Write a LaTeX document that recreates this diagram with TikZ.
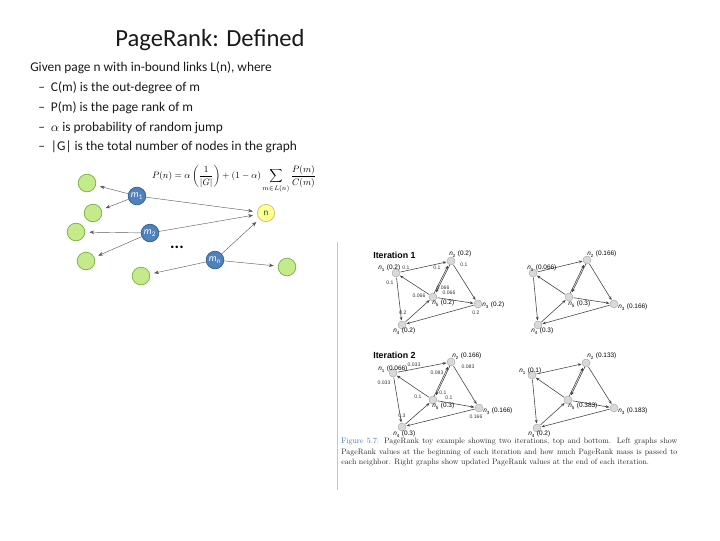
\documentclass[tikz,border=0pt]{standalone}
\usepackage{fontspec}
\usepackage{amsmath,graphicx}
\newfontfamily\slidefont{Carlito}
\newfontfamily\figfont{Liberation Sans}
\usetikzlibrary{arrows.meta,positioning,calc}
\definecolor{mb}{RGB}{79,129,189}
\definecolor{mbd}{RGB}{56,93,138}
\definecolor{gf}{RGB}{196,234,140}
\definecolor{gd}{RGB}{118,178,60}
\definecolor{yf}{RGB}{255,255,150}
\definecolor{yd}{RGB}{196,196,96}
\definecolor{capb}{RGB}{60,110,170}
\definecolor{ink}{RGB}{25,25,25}
\tikzset{
    leaf/.style={circle,draw=gd,line width=0.5pt,fill=gf,minimum size=0.44cm,inner sep=0pt},
    src/.style={circle,draw=mbd,line width=0.5pt,fill=mb,minimum size=0.44cm,inner sep=0pt,text=white,font=\slidefont\fontsize{7}{8}\selectfont},
    tgt/.style={circle,draw=yd,line width=0.5pt,fill=yf,minimum size=0.43cm,inner sep=0pt,text=green!40!black,font=\slidefont\fontsize{6.5}{7}\selectfont},
    larr/.style={-{Stealth[length=1.2mm,width=0.9mm]},line width=0.3pt,black!65,shorten >=3pt},
    pg/.style={circle,draw=gray!70,line width=0.3pt,fill=gray!30,minimum size=0.2cm,inner sep=0pt},
    parr/.style={-{Stealth[length=0.9mm,width=0.7mm]},line width=0.4pt,black!75,shorten >=0.3pt,shorten <=0.3pt},
    plab/.style={anchor=west,font=\figfont\fontsize{4.6}{5}\selectfont,inner sep=0pt},
    elab/.style={font=\figfont\fontsize{3.6}{4}\selectfont,inner sep=0pt,text=black!80},
    itlab/.style={anchor=west,font=\figfont\bfseries\fontsize{6.3}{7}\selectfont,inner sep=0pt},
    bul/.style={anchor=west,font=\slidefont\fontsize{9.5}{11}\selectfont,inner sep=0pt,text=ink},
}
\newcommand{\dsh}{\makebox[9pt][l]{–}}
\newcommand{\nd}[1]{\textit{n}\textsubscript{#1}}
\newcommand{\md}[1]{\textit{m}\textsubscript{#1}}

\begin{document}
\begin{tikzpicture}[x=0.025cm,y=-0.025cm]
\useasboundingbox (0,0) rectangle (720,540);
% slide text
\node[font=\slidefont\fontsize{17.5}{19}\selectfont,text=ink] (title) at (210,40) {PageRank: Defined};
\node[bul] (b0) at (30,68) {Given page n with in-bound links L(n), where};
\node[bul] (b1) at (38,88) {\dsh C(m) is the out-degree of m};
\node[bul] (b2) at (38,108) {\dsh P(m) is the page rank of m};
\node[bul] (b3) at (38,128) {\dsh $\alpha$ is probability of random jump};
\node[bul] (b4) at (38,147) {\dsh |G| is the total number of nodes in the graph};
\node[inner sep=0pt] (eq) at (234,179) {\scalebox{0.66}{$\displaystyle P(n)=\alpha\left(\frac{1}{|G|}\right)+(1-\alpha)\sum_{m\in L(n)}\frac{P(m)}{C(m)}$}};

% in-link picture
\node[leaf] (g1) at (87,183) {};
\node[leaf] (g2) at (93,213) {};
\node[leaf] (g3) at (76,232) {};
\node[leaf] (g4) at (86,261) {};
\node[leaf] (g5) at (141,276) {};
\node[leaf] (g6) at (287,267) {};
\node[src] (m1) at (137,196) {\md{1}};
\node[src] (m2) at (150,233) {\md{2}};
\node[src] (mn) at (215,260) {\md{n}};
\node[tgt] (n) at (266,213) {n};
\node[font=\slidefont\bfseries\fontsize{12}{12}\selectfont] (dots) at (177,247) {...};
\draw[larr] (m1) -- (g1); \draw[larr] (m1) -- (g2); \draw[larr] (m1) -- (n);
\draw[larr] (m2) -- (g3); \draw[larr] (m2) -- (g4); \draw[larr] (m2) -- (n);
\draw[larr] (mn) -- (n); \draw[larr] (mn) -- (g5); \draw[larr] (mn) -- (g6);

% book figure
\draw[gray!45,line width=0.6pt] (337,242) -- (337,490);
\node[itlab] (it1) at (373,255) {Iteration 1};
\node[itlab] (it2) at (373,355) {Iteration 2};

% iteration 1, before
\node[pg] (a1) at (396,273) {}; \node[pg] (a2) at (451,261) {};
\node[pg] (a3) at (478,304) {}; \node[pg] (a4) at (402,325) {};
\node[pg] (a5) at (433,297) {};
\foreach \s/\t in {1/2,1/4,2/3,5/1,5/3,3/4,4/5} \draw[parr] (a\s) -- (a\t);
\draw[parr,transform canvas={xshift=0.7pt,yshift=0.35pt}] (a2) -- (a5);
\draw[parr,transform canvas={xshift=-0.7pt,yshift=-0.35pt}] (a5) -- (a2);
\node[plab] (la1) at (378,268) {\nd{1} (0.2)};
\node[plab] (la2) at (449,254) {\nd{2} (0.2)};
\node[plab] (la3) at (482,305) {\nd{3} (0.2)};
\node[plab] (la4) at (393,331) {\nd{4} (0.2)};
\node[plab] (la5) at (432,303) {\nd{5} (0.2)};
\node[elab] (ea12) at (406,268) {0.1};
\node[elab] (ea14) at (390,283) {0.1};
\node[elab] (ea25) at (437,268) {0.1};
\node[elab] (ea23) at (464,265) {0.1};
\node[elab] (ea52) at (443,288) {0.066};
\node[elab] (ea51) at (419,296) {0.066};
\node[elab] (ea53) at (449,293) {0.066};
\node[elab] (ea45) at (403,313) {0.2};
\node[elab] (ea34) at (476,313) {0.2};

% iteration 1, after
\node[pg] (b1n) at (533,273) {}; \node[pg] (b2n) at (587,260) {};
\node[pg] (b3n) at (614,304) {}; \node[pg] (b4n) at (538,325) {};
\node[pg] (b5n) at (569,297) {};
\foreach \s/\t in {1/2,1/4,2/3,5/1,5/3,3/4,4/5} \draw[parr] (b\s n) -- (b\t n);
\draw[parr,transform canvas={xshift=0.7pt,yshift=0.35pt}] (b2n) -- (b5n);
\draw[parr,transform canvas={xshift=-0.7pt,yshift=-0.35pt}] (b5n) -- (b2n);
\node[plab] (lb1) at (527,268) {\nd{1} (0.066)};
\node[plab] (lb2) at (587,254) {\nd{2} (0.166)};
\node[plab] (lb3) at (618,307) {\nd{3} (0.166)};
\node[plab] (lb4) at (531,331) {\nd{4} (0.3)};
\node[plab] (lb5) at (568,304) {\nd{5} (0.3)};

% iteration 2, before
\node[pg] (c1) at (393,373) {}; \node[pg] (c2) at (451,362) {};
\node[pg] (c3) at (479,408) {}; \node[pg] (c4) at (402,427) {};
\node[pg] (c5) at (433,400) {};
\foreach \s/\t in {1/2,1/4,2/3,5/1,5/3,3/4,4/5} \draw[parr] (c\s) -- (c\t);
\draw[parr,transform canvas={xshift=0.7pt,yshift=0.35pt}] (c2) -- (c5);
\draw[parr,transform canvas={xshift=-0.7pt,yshift=-0.35pt}] (c5) -- (c2);
\node[plab] (lc1) at (378,369) {\nd{1} (0.066)};
\node[plab] (lc2) at (452,356) {\nd{2} (0.166)};
\node[plab] (lc3) at (483,411) {\nd{3} (0.166)};
\node[plab] (lc4) at (393,434) {\nd{4} (0.3)};
\node[plab] (lc5) at (432,406) {\nd{5} (0.3)};
\node[elab] (ec12) at (414,365) {0.033};
\node[elab] (ec14) at (384,383) {0.033};
\node[elab] (ec25) at (437,373) {0.083};
\node[elab] (ec23) at (468,367) {0.083};
\node[elab] (ec52) at (443,393) {0.1};
\node[elab] (ec51) at (418,397) {0.1};
\node[elab] (ec53) at (449,398) {0.1};
\node[elab] (ec45) at (402,416) {0.3};
\node[elab] (ec34) at (476,417) {0.166};

% iteration 2, after
\node[pg] (d1n) at (532,375) {}; \node[pg] (d2n) at (586,363) {};
\node[pg] (d3n) at (614,408) {}; \node[pg] (d4n) at (537,428) {};
\node[pg] (d5n) at (568,400) {};
\foreach \s/\t in {1/2,1/4,2/3,5/1,5/3,3/4,4/5} \draw[parr] (d\s n) -- (d\t n);
\draw[parr,transform canvas={xshift=0.7pt,yshift=0.35pt}] (d2n) -- (d5n);
\draw[parr,transform canvas={xshift=-0.7pt,yshift=-0.35pt}] (d5n) -- (d2n);
\node[plab] (ld1) at (519,371) {\nd{1} (0.1)};
\node[plab] (ld2) at (587,356) {\nd{2} (0.133)};
\node[plab] (ld3) at (618,411) {\nd{3} (0.183)};
\node[plab] (ld4) at (528,434) {\nd{4} (0.2)};
\node[plab] (ld5) at (568,406) {\nd{5} (0.383)};

% caption
\node[anchor=north west,inner sep=0pt,text=black!85] (cap) at (341,438)
  {\scalebox{0.56}{\parbox{15cm}{\fontsize{10}{13}\selectfont\noindent
   \textcolor{capb}{Figure 5.7:} PageRank toy example showing two iterations, top and bottom. Left graphs show\linebreak
   PageRank values at the beginning of each iteration and how much PageRank mass is passed to\linebreak
   each neighbor. Right graphs show updated PageRank values at the end of each iteration.}}};
\end{tikzpicture}
\end{document}
